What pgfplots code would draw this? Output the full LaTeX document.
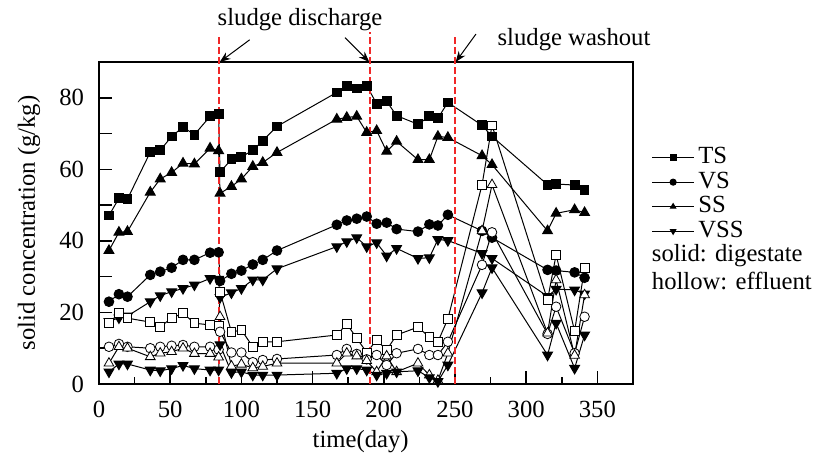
\documentclass[border=0pt]{standalone}
\usepackage{fontspec}
\setmainfont{Liberation Serif}
\usepackage{pgfplots}
\usepackage{pgfplotstable}
\pgfplotsset{compat=1.18}
\usetikzlibrary{arrows.meta}

\pgfplotstableread{
day  TS   VS   SS   VSS  eTS  eVS  eSS  eVSS
7    47.1 23.0 37.3 17.5 17.0 10.4 5.8  3.4
14   51.9 25.1 42.4 18.5 19.8 11.2 10.4 5.6
20   51.7 24.4 42.6 19.0 18.4 10.4 10.0 5.6
36   64.8 30.5 53.6 23.0 17.3 10.0 7.6  3.9
43   65.3 31.4 57.3 24.7 16.0 10.4 8.6  3.7
51   69.2 32.5 59.1 25.8 18.4 10.7 9.0  4.3
59   71.8 34.7 61.7 26.7 19.8 10.9 10.0 5.2
67   69.7 34.7 61.5 27.7 17.0 10.4 8.5  4.3
78   74.8 36.7 65.9 29.5 16.5 10.4 8.5  3.9
84   75.4 36.8 65.2 29.3 16.2 9.6  7.5  3.9
85   59.2 28.8 53.3 24.2 25.8 14.6 18.8 11.0
93   62.8 30.8 55.2 25.5 14.5 8.8  5.0  3.2
100  63.5 31.7 57.3 26.7 15.1 8.8  5.5  3.4
108  65.3 33.4 60.8 29.1 10.4 6.1  4.5  2.5
115  68.0 34.7 61.9 29.1 11.8 6.7  4.9  2.5
125  72.0 37.3 64.7 32.2 11.8 7.0  5.8  2.5
167  81.5 44.5 74.0 38.4 13.7 8.1  5.8  3.0
174  83.2 45.7 74.5 39.8 16.8 9.8  8.6  4.3
181  82.6 46.2 74.8 40.9 12.8 8.4  7.8  4.3
188  83.4 46.8 70.3 38.4 8.8  6.9  6.5  3.9
195  78.3 44.8 70.8 39.5 12.3 8.1  3.4  2.5
202  79.0 45.1 65.0 35.8 9.5  5.3  7.8  3.0
209  75.0 43.3 67.8 37.9 13.7 8.6  3.4  3.4
224  72.6 42.6 62.7 35.1 15.9 9.8  5.8  3.7
232  74.8 44.6 62.7 35.3 13.1 8.1  2.5  1.8
238  74.3 44.3 69.2 40.4 11.8 8.1  1.0  0.7
245  78.7 47.3 68.9 40.1 18.2 11.8 8.6  5.3
269  72.3 42.8 63.8 36.5 55.7 33.3 42.8 25.5
276  69.2 40.9 61.3 35.1 72.3 42.4 55.7 32.5
315  55.7 31.9 42.8 24.5 23.5 14.0 14.2 8.1
321  55.9 31.7 47.7 26.5 36.1 21.6 29.1 17.0
334  55.6 31.2 48.7 26.3 14.8 8.6  8.0  4.4
341  54.3 29.7 47.9 25.2 32.4 18.8 24.9 13.7
}\datatable

\definecolor{evred}{RGB}{240,40,40}

\begin{document}
\fontsize{18.5}{22}\selectfont
\begin{tikzpicture}
\path[use as bounding box] (-74.25pt,-57pt) rectangle (540pt,288pt);
\begin{axis}[
  scale only axis,
  width=400.5pt, height=241.5pt,
  xmin=0, xmax=375, ymin=0, ymax=90,
  clip=false,
  axis line style={line width=1.1pt},
  tick style={line width=1.1pt, black},
  tick align=inside,
  xtick pos=bottom, ytick pos=left,
  xtick={0,50,...,350},
  xticklabels={0,50,100,150,200,250,300,350},
  minor xtick={25,75,...,375},
  ytick={0,10,...,90},
  yticklabels={0,,20,,40,,60,,80,},
  major tick length=10pt,
  minor tick length=5pt,
  xticklabel style={inner sep=0pt, anchor=north, yshift=-13pt},
  yticklabel style={inner sep=0pt, anchor=east, xshift=-11pt},
  xlabel={time(day)},
  ylabel={solid concentration (g/kg)},
  every axis x label/.style={at={(axis description cs:0.49,-0.18)}, anchor=center},
  every axis y label/.style={at={(axis description cs:-0.131,0.5)}, anchor=center, rotate=90},
  legend style={draw=none, fill=none, at={(1.035,0.742)}, anchor=north west,
    inner sep=0pt, row sep=0pt, column sep=3pt,
    nodes={inner sep=0pt, minimum height=18.4pt}},
  legend cell align=left,
  legend image code/.code={\draw[mark repeat=2,mark phase=2,mark size=2.3pt]
     plot coordinates {(0pt,0pt) (15.5pt,0pt) (31pt,0pt)};},
  filled/.style={black, line width=0.75pt, mark options={solid, fill=black, draw=black}},
  hollow/.style={black, line width=0.75pt, mark options={solid, fill=white, draw=black, line width=0.6pt}},
  event/.style={draw=evred, color=evred, line width=1.2pt, dash pattern=on 5pt off 2.5pt, forget plot},
]
% filled: digestate
\addplot[filled, mark=square*, mark size=3.3pt] table[x=day,y=TS]{\datatable};
\addlegendentry{TS}
\addplot[filled, mark=*, mark size=3.6pt] table[x=day,y=VS]{\datatable};
\addlegendentry{VS}
\addplot[filled, mark=triangle*, mark size=4.2pt] table[x=day,y=SS]{\datatable};
\addlegendentry{SS}
\addplot[filled, mark=triangle*, mark size=4.2pt, mark options={rotate=180}] table[x=day,y=VSS]{\datatable};
\addlegendentry{VSS}
% hollow: effluent
\addplot[hollow, mark=square*, mark size=3.3pt, forget plot] table[x=day,y=eTS]{\datatable};
\addplot[hollow, mark=*, mark size=3.6pt, forget plot] table[x=day,y=eVS]{\datatable};
\addplot[hollow, mark=triangle*, mark size=4.2pt, forget plot] table[x=day,y=eSS]{\datatable};
\addplot[hollow, mark=triangle*, mark size=4.2pt, mark options={rotate=180}, forget plot] table[x=day,y=eVSS]{\datatable};
% events
\addplot[event] coordinates {(84.3,0) (84.3,97.5)};
\addplot[event] coordinates {(190.3,0) (190.3,98.5)};
\addplot[event] coordinates {(250,0) (250,97.5)};
\draw[-{Stealth[length=8pt,width=6pt]}, line width=0.75pt] (axis cs:105.8,96.2) -- (axis cs:84.8,90);
\draw[-{Stealth[length=8pt,width=6pt]}, line width=0.75pt] (axis cs:172.8,96.8) -- (axis cs:189.8,90);
\draw[-{Stealth[length=8pt,width=6pt]}, line width=0.75pt] (axis cs:264.7,97.8) -- (axis cs:250.5,90);
\node[anchor=base, inner sep=0pt] at (axis cs:141.2,100.2) {sludge discharge};
\node[anchor=base, inner sep=0pt] at (axis cs:333.6,94.6) {sludge washout};
\node[anchor=west, inner sep=0pt] at (rel axis cs:1.035,0.398) {solid: digestate};
\node[anchor=west, inner sep=0pt] at (rel axis cs:1.035,0.320) {hollow: effluent};
\end{axis}
\end{tikzpicture}
\end{document}
